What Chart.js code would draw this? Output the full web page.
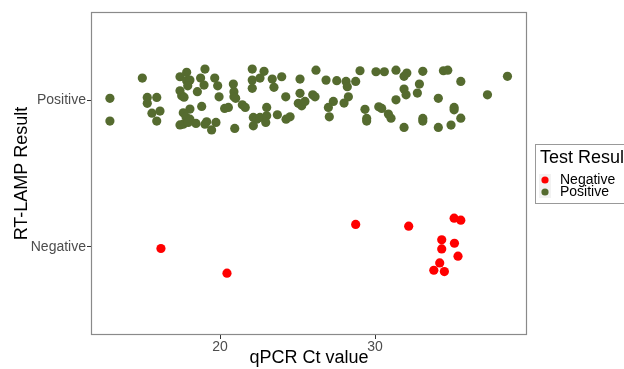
<!DOCTYPE html>
<html>
<head>
<meta charset="utf-8">
<script src="https://cdn.jsdelivr.net/npm/chart.js@4/dist/chart.umd.min.js"></script>
<style>
  html, body { margin: 0; padding: 0; background: #fff; }
  #wrap { width: 624px; height: 369px; }
</style>
</head>
<body>
<div id="wrap"><canvas id="chart" width="624" height="369"></canvas></div>
<script>
// categorias del eje Y
var categories = ["Negative", "Positive"];

// valores Ct (qPCR) y posicion vertical con jitter
var positiveCt = [12.90, 12.90, 14.99, 15.31, 15.31, 15.92, 15.61, 16.13, 15.92, 17.42,
  17.85, 17.85, 18.06, 17.92, 19.03, 18.75, 18.97, 18.54, 17.42, 17.53,
  17.68, 18.06, 17.63, 17.81, 18.06, 18.82, 17.63, 17.42, 17.95, 18.45,
  19.03, 19.14, 19.46, 19.74, 19.66, 19.85, 19.94, 20.86, 20.90, 20.90,
  21.01, 20.30, 20.54, 21.44, 21.63, 20.95, 22.08, 22.84, 22.08, 22.58,
  22.08, 23.37, 23.48, 23.98, 23.01, 24.24, 22.15, 22.37, 22.15, 22.58,
  23.01, 22.95, 23.70, 24.26, 24.52, 25.16, 25.16, 25.05, 25.27, 25.48,
  26.19, 26.84, 27.53, 28.13, 28.21, 28.75, 29.03, 30.06, 30.60, 31.35,
  32.05, 31.87, 33.08, 34.41, 34.69, 35.53, 38.54, 32.86, 31.87, 32.00,
  32.73, 31.35, 34.08, 37.25, 25.98, 26.13, 27.31, 26.99, 28.00, 28.28,
  27.05, 29.35, 29.46, 29.46, 30.24, 30.43, 30.86, 31.03, 31.87, 33.08,
  33.08, 34.08, 34.90, 35.53, 35.10, 35.10];
var positiveY = [2.012, 1.857, 2.150, 2.018, 1.978, 2.018, 1.911, 1.925, 1.857, 2.159,
  2.189, 2.132, 2.136, 2.097, 2.211, 2.150, 2.102, 2.057, 2.063, 2.029,
  2.020, 1.939, 1.913, 1.884, 1.870, 1.957, 1.836, 1.831, 1.848, 1.841,
  1.836, 1.852, 1.797, 1.848, 2.150, 2.097, 2.022, 2.109, 2.057, 2.022,
  2.012, 1.943, 1.950, 1.968, 1.950, 1.807, 2.211, 2.196, 2.136, 2.150,
  2.080, 2.143, 2.087, 2.159, 1.950, 2.022, 1.882, 1.870, 1.825, 1.882,
  1.893, 1.848, 1.900, 1.870, 1.886, 2.143, 2.046, 1.978, 1.961, 1.991,
  2.204, 2.136, 2.132, 2.127, 2.091, 2.127, 2.200, 2.193, 2.193, 2.204,
  2.184, 2.162, 2.196, 2.200, 2.204, 2.127, 2.162, 2.109, 2.075, 2.036,
  2.048, 2.002, 2.012, 2.036, 2.036, 2.022, 1.991, 1.950, 1.980, 2.022,
  1.886, 1.937, 1.875, 1.857, 1.954, 1.943, 1.905, 1.877, 1.814, 1.875,
  1.857, 1.814, 1.830, 1.877, 1.950, 1.934];

var negativeCt = [16.19, 20.45, 28.75, 32.17, 35.10, 35.53, 34.30, 34.30, 35.12, 35.35, 34.17, 33.79, 34.47];
var negativeY = [0.989, 0.821, 1.153, 1.141, 1.196, 1.182, 1.048, 0.986, 1.025, 0.937, 0.891, 0.841, 0.832];

var xTicks = [20, 30];

var colorNeg = "#FF0000";
var colorPos = "#556B2F";

function toPoints(xs, ys) {
    var pts = [];
    for (var i = 0; i < xs.length; i++) {
        pts.push({ x: xs[i], y: ys[i] });
    }
    return pts;
}

// borde del panel y leyenda al estilo ggplot
var panelPlugin = {
    id: "panel",
    afterDraw: function (chart) {
        var ctx = chart.ctx;
        var a = chart.chartArea;
        ctx.save();
        ctx.strokeStyle = "#8a8a8a";
        ctx.lineWidth = 1.2;
        ctx.strokeRect(a.left + 0.5, a.top + 0.5, a.right - a.left - 1, a.bottom - a.top - 1);

        // leyenda
        ctx.strokeStyle = "#999999";
        ctx.lineWidth = 1;
        ctx.strokeRect(535.5, 144.5, 110, 59);
        ctx.fillStyle = "#000";
        ctx.font = "18px 'Liberation Sans', Arial, sans-serif";
        ctx.textBaseline = "alphabetic";
        ctx.textAlign = "left";
        ctx.fillText("Test Result", 540, 163);

        var items = [["Negative", colorNeg, 180], ["Positive", colorPos, 192]];
        items.forEach(function (it) {
            ctx.fillStyle = "#f2f2f2";
            ctx.fillRect(539, it[2] - 6, 12, 12);
            ctx.fillStyle = it[1];
            ctx.beginPath();
            ctx.arc(545, it[2], 3.6, 0, Math.PI * 2);
            ctx.fill();
            ctx.fillStyle = "#000";
            ctx.font = "14px 'Liberation Sans', Arial, sans-serif";
            ctx.textBaseline = "middle";
            ctx.fillText(it[0], 560, it[2] + 0.5);
        });
        ctx.restore();
    }
};

var ctx = document.getElementById("chart").getContext("2d");
var chart = new Chart(ctx, {
    type: "scatter",
    data: {
        datasets: [{
            label: categories[0],
            data: toPoints(negativeCt, negativeY),
            backgroundColor: colorNeg,
            borderWidth: 0,
            pointRadius: 4.6,
        }, {
            label: categories[1],
            data: toPoints(positiveCt, positiveY),
            backgroundColor: colorPos,
            borderWidth: 0,
            pointRadius: 4.6,
        }],
    },
    options: {
        responsive: false,
        animation: false,
        layout: { padding: { top: 12, right: 97, left: 0, bottom: 0 } },
        plugins: {
            legend: { display: false },
            tooltip: { enabled: false },
        },
        scales: {
            x: {
                type: "linear",
                min: 11.68,
                max: 39.8,
                afterBuildTicks: function (scale) {
                    scale.ticks = xTicks.map(function (v) { return { value: v }; });
                },
                afterFit: function (scale) { scale.height = 34; },
                grid: { drawOnChartArea: false, tickLength: 4, color: "#333333", tickWidth: 1 },
                border: { display: false },
                ticks: {
                    color: "#4d4d4d",
                    padding: 0,
                    font: { family: "'Liberation Sans', Arial, sans-serif", size: 14 },
                },
                title: {
                    display: true,
                    text: "qPCR Ct value",
                    color: "#000",
                    padding: { top: -1, bottom: 0 },
                    font: { family: "'Liberation Sans', Arial, sans-serif", size: 18 },
                },
            },
            y: {
                type: "linear",
                min: 0.4,
                max: 2.6,
                afterBuildTicks: function (scale) {
                    scale.ticks = [{ value: 1 }, { value: 2 }];
                },
                afterFit: function (scale) { scale.width = 91; },
                grid: { drawOnChartArea: false, tickLength: 4, color: "#333333", tickWidth: 1 },
                border: { display: false },
                ticks: {
                    color: "#4d4d4d",
                    padding: 1,
                    font: { family: "'Liberation Sans', Arial, sans-serif", size: 14 },
                    callback: function (v) { return categories[Math.round(v) - 1]; },
                },
                title: {
                    display: true,
                    text: "RT-LAMP Result",
                    color: "#000",
                    padding: { top: 11, bottom: 0 },
                    font: { family: "'Liberation Sans', Arial, sans-serif", size: 18 },
                },
            },
        },
    },
    plugins: [panelPlugin],
});
</script>
</body>
</html>
